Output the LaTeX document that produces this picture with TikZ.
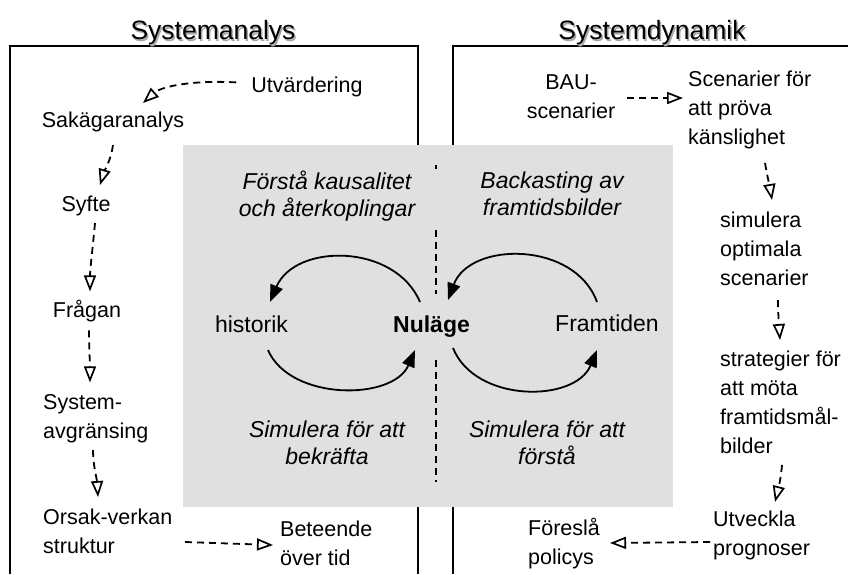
\documentclass[tikz,border=0pt]{standalone}
\usepackage{fontspec}
\setmainfont{Liberation Sans}
\usetikzlibrary{arrows.meta,calc}
\definecolor{panel}{RGB}{224,224,224}
\tikzset{
  side/.style={font=\fontsize{21.5}{29}\selectfont, inner sep=0pt, align=left},
  sidec/.style={font=\fontsize{21.5}{29}\selectfont, inner sep=0pt, align=center},
  mid/.style={font=\fontsize{23}{26.5}\selectfont\itshape, inner sep=0pt, align=center},
  midr/.style={font=\fontsize{23}{26.5}\selectfont, inner sep=0pt},
  ttl/.style={font=\fontsize{26.5}{30}\selectfont, inner sep=0pt},
  ttlshadow/.style={ttl, text=black!35},
  frame/.style={line width=1.8pt},
  dflow/.style={line width=1.8pt, dash pattern=on 7pt off 5pt, -{Triangle[open,length=16pt,width=12pt,line width=1.7pt]}},
  cyc/.style={line width=1.8pt, -{Triangle[length=17pt,width=13pt]}},
  divider/.style={line width=1.6pt, dash pattern=on 7pt off 5pt}
}
\begin{document}
\begin{tikzpicture}[x=1pt,y=-1pt]
\useasboundingbox (0,0) rectangle (848,574);
% frames
\draw[frame] (10,574) -- (10,46) -- (418,46) -- (418,574);
\draw[frame] (453,574) -- (453,46) -- (848,46);
% titles
\node[ttlshadow] at (214.5,34.5) {Systemanalys};
\node[ttl] (t1) at (213,33) {Systemanalys};
\node[ttlshadow] at (653.5,34.5) {Systemdynamik};
\node[ttl] (t2) at (652,33) {Systemdynamik};
% centre panel
\fill[panel] (183,145) rectangle (673,507);
\draw[divider] (436,165) -- (436,169);
\draw[divider] (436,230) -- (436,294);
\draw[divider] (436,360) -- (436,482);
% left column
\node[side] (utv) at (307,87.4) {Utvärdering};
\node[side] (sak) at (113,122.4) {Sakägaranalys};
\node[side] (syf) at (86,206) {Syfte};
\node[side] (fra) at (87,311.4) {Frågan};
\node[side, anchor=west] (sys) at (43,418.4) {System-\\avgränsing};
\node[side, anchor=west] (ors) at (43,531) {Orsak-verkan\\struktur};
\node[side, anchor=west] (bet) at (280,543) {Beteende\\över tid};
% right column
\node[sidec] (bau) at (571,97) {BAU-\\scenarier};
\node[side, anchor=west] (scen) at (688,110.4) {Scenarier för\\att pröva\\känslighet};
\node[side, anchor=west] (simu) at (720,249) {simulera\\optimala\\scenarier};
\node[side, anchor=west] (strat) at (720,402.7) {strategier för\\att möta\\framtidsmål-\\bilder};
\node[side, anchor=west] (utve) at (713,535) {Utveckla\\prognoser};
\node[side, anchor=west] (fore) at (528,544) {Föreslå\\policys};
% centre texts
\node[mid] (fk) at (327,196) {Förstå kausalitet\\och återkoplingar};
\node[mid] (ba) at (552,193.6) {Backasting av\\framtidsbilder};
\node[midr] (hi) at (251.5,324.6) {historik};
\node[midr, font=\fontsize{23}{26.5}\selectfont\bfseries] (nu) at (431.5,327) {Nuläge};
\node[midr] (fr) at (607,323.6) {Framtiden};
\node[mid] (sb) at (327,443) {Simulera för att\\bekräfta};
\node[mid] (sf) at (547,443) {Simulera för att\\förstå};
% dashed flows, left
\draw[dflow] ($(utv.west)+(-15,-5)$) .. controls (195,80) and (162,86) .. ($(sak)+(30,-19.4)$);
\draw[dflow] ($(sak)+(0,22.6)$) .. controls (111,160) and (104,172) .. ($(syf)+(14,-21)$);
\draw[dflow] ($(syf)+(9,17)$) .. controls (93,245) and (90,270) .. ($(fra)+(3,-20)$);
\draw[dflow] ($(fra)+(2,19)$) .. controls (89,345) and (90,365) .. ($(sys.west)+(47,-36)$);
\draw[dflow] ($(sys.west)+(50,31.6)$) .. controls (93,465) and (97,480) .. ($(ors.west)+(55,-34)$);
\draw[dflow] ($(ors.west)+(142,11)$) -- ($(bet.west)+(-7,2)$);
% dashed flows, right
\draw[dflow] ($(bau)+(56,1)$) -- ($(scen.west)+(-5,-12.4)$);
\draw[dflow] ($(scen.west)+(77,52.6)$) .. controls (767,175) and (770,188) .. ($(simu.west)+(52,-49)$);
\draw[dflow] ($(simu.west)+(58,51)$) .. controls (778,312) and (779,326) .. ($(strat.west)+(60,-62.7)$);
\draw[dflow] ($(strat.west)+(62,62.3)$) .. controls (781,478) and (778,490) .. ($(utve.west)+(62,-33)$);
\draw[dflow] ($(utve.west)+(-3,7)$) -- ($(fore.west)+(82,-1)$);
% cycle arcs
\draw[cyc] ($(nu)+(-11.5,-25)$) .. controls (395,243) and (295,243) .. ($(hi)+(18.5,-22.6)$);
\draw[cyc] ($(hi)+(16.5,25.4)$) .. controls (290,401) and (393,401) .. ($(nu)+(-16.5,23)$);
\draw[cyc] ($(fr)+(-10,-21.6)$) .. controls (575,241) and (470,241) .. ($(nu)+(16.5,-27)$);
\draw[cyc] ($(nu)+(21.5,21)$) .. controls (475,403) and (575,403) .. ($(fr)+(-10,26.4)$);
\end{tikzpicture}
\end{document}
